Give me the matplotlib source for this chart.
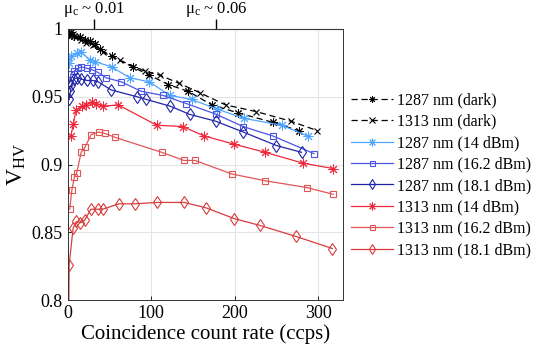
import matplotlib.pyplot as plt

plt.rcParams['font.family'] = ['Liberation Serif', 'DejaVu Serif']
plt.rcParams['mathtext.fontset'] = 'custom'
plt.rcParams['mathtext.rm'] = 'Liberation Serif'
plt.rcParams['mathtext.it'] = 'Liberation Serif:italic'

# 1287 nm (dark)
x_1287_dark = [1.6, 4.4, 8, 14.4, 20.4, 26.4, 32.4, 38.4, 52.5, 77.6, 97.6, 120.4, 144.3, 172.5, 204.4, 246.4, 276.5]
y_1287_dark = [0.996, 0.998, 0.995, 0.994, 0.992, 0.991, 0.989, 0.985, 0.980, 0.972, 0.966, 0.959, 0.954, 0.944, 0.938, 0.931, 0.925]
# 1313 nm (dark)
x_1313_dark = [1, 3, 6, 10, 16, 22, 30, 42, 62, 92, 110, 133, 158, 189, 226, 267, 299]
y_1313_dark = [0.995, 0.997, 0.996, 0.994, 0.992, 0.990, 0.988, 0.983, 0.977, 0.969, 0.966, 0.960, 0.953, 0.944, 0.939, 0.932, 0.925]
# 1287 nm (14 dBm)
x_1287_14 = [1.6, 4.4, 11.2, 16.4, 26.4, 32.4, 52.5, 74.4, 97.6, 122.4, 148.5, 178.5, 211.3, 256.5, 287.3]
y_1287_14 = [0.975, 0.980, 0.982, 0.983, 0.977, 0.976, 0.972, 0.964, 0.961, 0.951, 0.948, 0.941, 0.934, 0.929, 0.921]
# 1287 nm (16.2 dBm)
x_1287_16 = [1.5, 4, 8, 12.4, 16.4, 23, 29, 36, 46, 64, 88, 114, 142, 178, 210, 246, 295]
y_1287_16 = [0.960, 0.967, 0.969, 0.971, 0.972, 0.971, 0.970, 0.968, 0.964, 0.961, 0.954, 0.951, 0.945, 0.937, 0.928, 0.921, 0.908]
# 1287 nm (18.1 dBm)
x_1287_18 = [1.6, 3.2, 4.4, 7.2, 11.6, 16.4, 23.2, 30.4, 36.4, 52, 83, 94, 123, 146, 177, 210, 250, 280]
y_1287_18 = [0.948, 0.954, 0.959, 0.963, 0.964, 0.963, 0.962, 0.962, 0.961, 0.955, 0.950, 0.948, 0.943, 0.937, 0.932, 0.924, 0.914, 0.909]
# 1313 nm (14 dBm)
x_1313_14 = [3.6, 6.8, 9.6, 16.8, 21.6, 29.6, 34, 41.6, 60.4, 106.5, 137.7, 163.6, 199.3, 236.5, 281.7, 318]
y_1313_14 = [0.921, 0.930, 0.940, 0.943, 0.944, 0.946, 0.945, 0.943, 0.944, 0.929, 0.928, 0.921, 0.915, 0.909, 0.901, 0.897]
# 1313 nm (16.2 dBm)
x_1313_16 = [2.4, 4.8, 8, 10.8, 16, 20.8, 28, 36.8, 44, 56.8, 112.5, 139, 152.5, 196.5, 236.5, 286.5, 318]
y_1313_16 = [0.867, 0.881, 0.891, 0.894, 0.909, 0.913, 0.922, 0.924, 0.923, 0.920, 0.909, 0.903, 0.903, 0.893, 0.888, 0.883, 0.878]
# 1313 nm (18.1 dBm)
x_1313_18 = [1.0, 1.6, 6.4, 10.4, 15.2, 20.4, 27.6, 35.6, 41.6, 61.6, 80.4, 107.2, 139.6, 165.7, 199.7, 230.5, 272.9, 317]
y_1313_18 = [0.775, 0.826, 0.853, 0.858, 0.857, 0.859, 0.867, 0.867, 0.867, 0.871, 0.871, 0.872, 0.872, 0.868, 0.860, 0.855, 0.847, 0.838]

mu_pos = [32, 178]
mu_labels = ['μ$_\\mathrm{c}$ ~ 0.01', 'μ$_\\mathrm{c}$ ~ 0.06']

ast = (8, 2, 0)
fig = plt.figure(figsize=(5.38, 3.58), dpi=100)
ax = fig.add_axes([0.126, 0.162, 0.512, 0.757])

ax.plot(x_1287_dark, y_1287_dark, '--', dashes=(5, 3), color='black', marker=ast, markersize=6, mew=0.7, lw=0.9, label='1287 nm (dark)')
ax.plot(x_1313_dark, y_1313_dark, '--', dashes=(5, 3), color='black', marker='x', markersize=5, mew=0.8, lw=0.9, label='1313 nm (dark)')
ax.plot(x_1287_14, y_1287_14, '-', color='#4da6ff', marker=ast, markersize=7, mew=0.7, lw=0.9, label='1287 nm (14 dBm)')
ax.plot(x_1287_16, y_1287_16, '-', color='#4b55e6', marker='s', markersize=4.5, mew=0.8, mfc='none', lw=0.9, label='1287 nm (16.2 dBm)')
ax.plot(x_1287_18, y_1287_18, '-', color='#1f24a8', marker='d', markersize=6, mew=0.8, mfc='none', lw=0.9, label='1287 nm (18.1 dBm)')
ax.plot(x_1313_14, y_1313_14, '-', color='#f0283c', marker=ast, markersize=7, mew=0.7, lw=0.9, label='1313 nm (14 dBm)')
ax.plot(x_1313_16, y_1313_16, '-', color='#e25555', marker='s', markersize=4.5, mew=0.8, mfc='none', lw=0.9, label='1313 nm (16.2 dBm)')
ax.plot(x_1313_18, y_1313_18, '-', color='#d83c3c', marker='d', markersize=6, mew=0.8, mfc='none', lw=0.9, label='1313 nm (18.1 dBm)')

ax.set_xlim(0, 330)
ax.set_ylim(0.8, 1.0)
ax.set_xticks([0, 100, 200, 300])
ax.set_yticks([0.8, 0.85, 0.9, 0.95, 1.0])
ax.set_yticklabels(['0.8', '0.85', '0.9', '0.95', '1'])
ax.tick_params(direction='in', length=3, labelsize=13, width=0.6)
ax.grid(True, color='#e4e4e4', lw=0.8)
ax.set_axisbelow(True)
for s in ax.spines.values():
    s.set_color('#333333')
    s.set_linewidth(0.7)

ax.set_xlabel('Coincidence count rate (ccps)', fontsize=15, labelpad=2)
ax.set_ylabel('V$_\\mathrm{HV}$', fontsize=17, labelpad=3)

top = ax.secondary_xaxis('top')
top.set_xticks(mu_pos)
top.set_xticklabels(mu_labels)
top.tick_params(direction='out', length=7, labelsize=12, width=1, pad=0.3)

ax.legend(loc='upper left', bbox_to_anchor=(1.005, 0.79), frameon=False, fontsize=11.5,
          handlelength=2.6, handletextpad=0.3, borderaxespad=0, labelspacing=0.34,
          markerscale=0.8)

fig.savefig('out.png', dpi=100)
